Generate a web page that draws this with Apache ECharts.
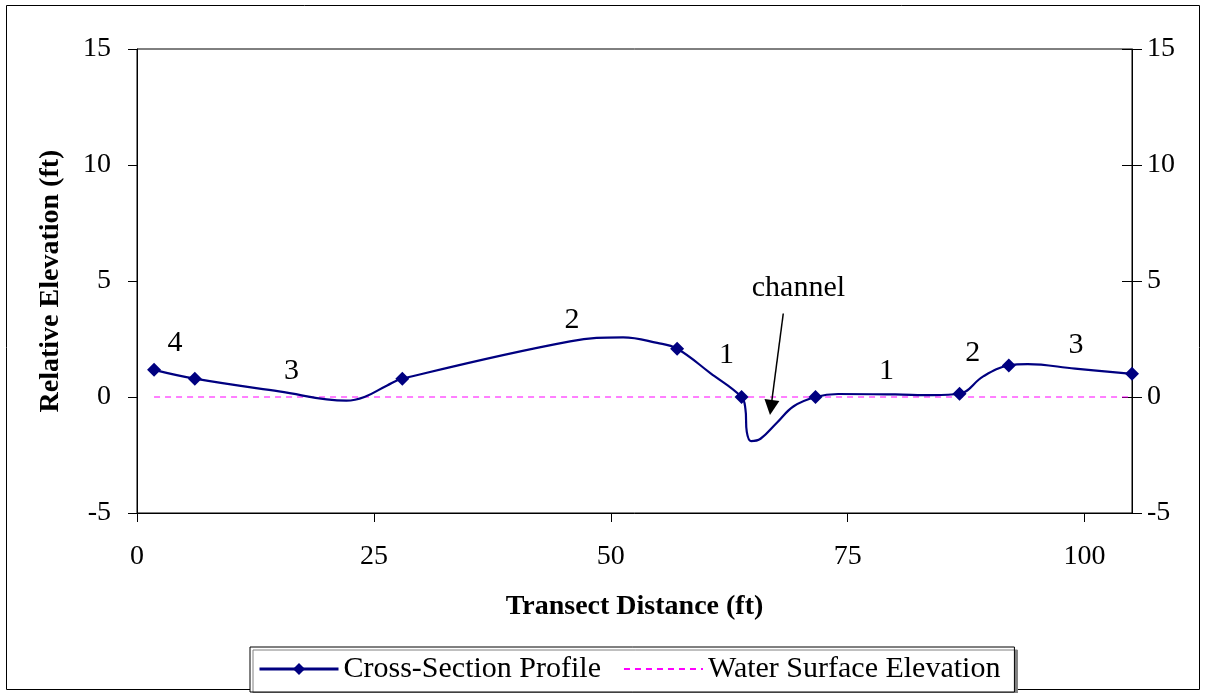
<!DOCTYPE html>
<html>
<head>
<meta charset="utf-8">
<title>Cross-Section Profile</title>
<script src="https://cdn.jsdelivr.net/npm/echarts@6/dist/echarts.min.js"></script>
<style>
  html, body { margin: 0; padding: 0; background: #fff; }
  #main { width: 1206px; height: 693px; }
</style>
</head>
<body>
<div id="main"></div>
<script>
let distance  = [1.8, 6.1, 15, 22.1, 24, 26.4, 28.0, 45.7, 51.3, 54.9, 57.0, 60.5, 63.8, 64.2, 64.35, 64.8, 65.8, 67.5, 69.3, 71.6, 74, 80, 84, 86.8, 89.3, 92.0, 94, 99, 105];
let elevation = [1.17, 0.79, 0.24, -0.16, 0.0, 0.5, 0.79, 2.4, 2.57, 2.33, 2.08, 1.03, 0.0, -0.5, -1.5, -1.9, -1.8, -1.12, -0.4, 0.0, 0.13, 0.11, 0.08, 0.14, 0.89, 1.36, 1.42, 1.22, 1.0];
let surveyed  = [1, 1, 0, 0, 0, 0, 1, 0, 0, 0, 1, 0, 1, 0, 0, 0, 0, 0, 0, 1, 0, 0, 0, 1, 0, 1, 0, 0, 1];

let waterX = [1.8, 105];
let waterY = [0, 0];

// zone numbers and note written on the plot
let noteText = ['4', '3', '2', '1', 'channel', '1', '2', '3'];
let noteX    = [4.0, 16.3, 45.9, 62.2, 69.8, 79.1, 88.2, 99.1];
let noteY    = [2.34, 1.1, 3.33, 1.82, 4.71, 1.1, 1.87, 2.25];

let arrowFrom = [68.2, 3.6];
let arrowTo   = [66.9, -0.45];

let xTicks = [0, 25, 50, 75, 100];
let yTicks = [-5, 0, 5, 10, 15];

let serif = '"Liberation Serif", "Times New Roman", serif';

let profileData = [];
for (let i = 0; i < distance.length; i++) {
    let item = {value: [distance[i], elevation[i]]};
    if (!surveyed[i]) item.symbol = 'none';
    profileData.push(item);
}
let waterData = [];
for (let i = 0; i < waterX.length; i++) {
    waterData.push([waterX[i], waterY[i]]);
}
let noteData = [];
for (let i = 0; i < noteText.length; i++) {
    noteData.push({name: noteText[i], value: [noteX[i], noteY[i]]});
}

let yBase = {
    type: 'value',
    min: yTicks[0],
    max: yTicks[yTicks.length - 1],
    interval: 5,
    splitLine: {show: false},
    axisLine: {show: true, lineStyle: {color: '#000', width: 1}},
    axisTick: {show: true, length: 9, lineStyle: {color: '#000'}},
    axisLabel: {color: '#000', fontFamily: serif, fontSize: 28}
};

let myChart = echarts.init(document.getElementById('main'));
let option = {
    animation: false,
    backgroundColor: '#fff',
    graphic: [{
        type: 'rect',
        shape: {x: 6.5, y: 5.5, width: 1193, height: 684},
        style: {fill: 'none', stroke: '#000', lineWidth: 1},
        z: -1
    }],
    grid: {
        left: 137,
        right: 74,
        top: 49,
        bottom: 180,
        show: true,
        borderColor: '#000',
        borderWidth: 1
    },
    legend: {
        data: [
            {name: 'Cross-Section Profile', lineStyle: {width: 3}},
            {name: 'Water Surface Elevation', itemStyle: {opacity: 0}}
        ],
        left: 250,
        top: 647,
        itemWidth: 79,
        itemHeight: 15,
        itemGap: 22,
        padding: [7, 14, 8, 8],
        borderColor: '#000',
        borderWidth: 1,
        backgroundColor: '#fff',
        shadowColor: '#808080',
        shadowOffsetX: 3,
        shadowOffsetY: 3,
        shadowBlur: 0,
        textStyle: {color: '#000', fontFamily: serif, fontSize: 30}
    },
    xAxis: {
        type: 'value',
        min: 0,
        max: 105,
        interval: 25,
        name: 'Transect Distance (ft)',
        nameLocation: 'middle',
        nameGap: 80,
        nameTextStyle: {color: '#000', fontFamily: serif, fontSize: 28, fontWeight: 'bold'},
        splitLine: {show: false},
        axisLine: {onZero: false, lineStyle: {color: '#000', width: 1}},
        axisTick: {length: 9, lineStyle: {color: '#000'}},
        axisLabel: {
            color: '#000', fontFamily: serif, fontSize: 28, margin: 30,
            showMaxLabel: false,
            formatter: function (v) { return xTicks.indexOf(v) >= 0 ? String(v) : ''; }
        }
    },
    yAxis: [
        Object.assign({}, yBase, {
            position: 'left',
            name: 'Relative Elevation (ft)',
            nameLocation: 'middle',
            nameGap: 72,
            nameTextStyle: {color: '#000', fontFamily: serif, fontSize: 28, fontWeight: 'bold'},
            axisLabel: Object.assign({}, yBase.axisLabel, {margin: 26})
        }),
        Object.assign({}, yBase, {
            position: 'right',
            axisTick: {show: true, length: 10, lineStyle: {color: '#000'}},
            axisLabel: Object.assign({}, yBase.axisLabel, {margin: 15})
        }),
        Object.assign({}, yBase, {
            position: 'right',
            axisLine: {show: false},
            axisTick: {show: true, inside: true, length: 10, lineStyle: {color: '#000'}},
            axisLabel: {show: false}
        })
    ],
    series: [{
        name: 'Water Surface Elevation',
        type: 'line',
        data: waterData,
        symbol: 'none',
        lineStyle: {color: '#FF00FF', width: 1, type: [6, 5]},
        itemStyle: {color: '#FF00FF'},
        z: 2
    }, {
        name: 'Cross-Section Profile',
        type: 'line',
        data: profileData,
        smooth: 0.4,
        symbol: 'diamond',
        symbolSize: [14, 14],
        showAllSymbol: true,
        lineStyle: {color: '#000080', width: 2.2},
        itemStyle: {color: '#000080'},
        z: 3
    }, {
        name: 'notes',
        type: 'scatter',
        data: noteData,
        symbolSize: 0,
        silent: true,
        itemStyle: {opacity: 1},
        label: {
            show: true,
            position: 'inside',
            formatter: '{b}',
            color: '#000',
            opacity: 1,
            textBorderWidth: 0,
            fontFamily: serif,
            fontSize: 30
        },
        markLine: {
            silent: true,
            symbol: ['none', 'triangle'],
            symbolSize: 15,
            label: {show: false},
            lineStyle: {color: '#000', width: 1.5, type: 'solid', opacity: 1},
            data: [[{coord: arrowFrom}, {coord: arrowTo}]]
        },
        z: 4
    }]
};
myChart.setOption(option);
</script>
</body>
</html>
